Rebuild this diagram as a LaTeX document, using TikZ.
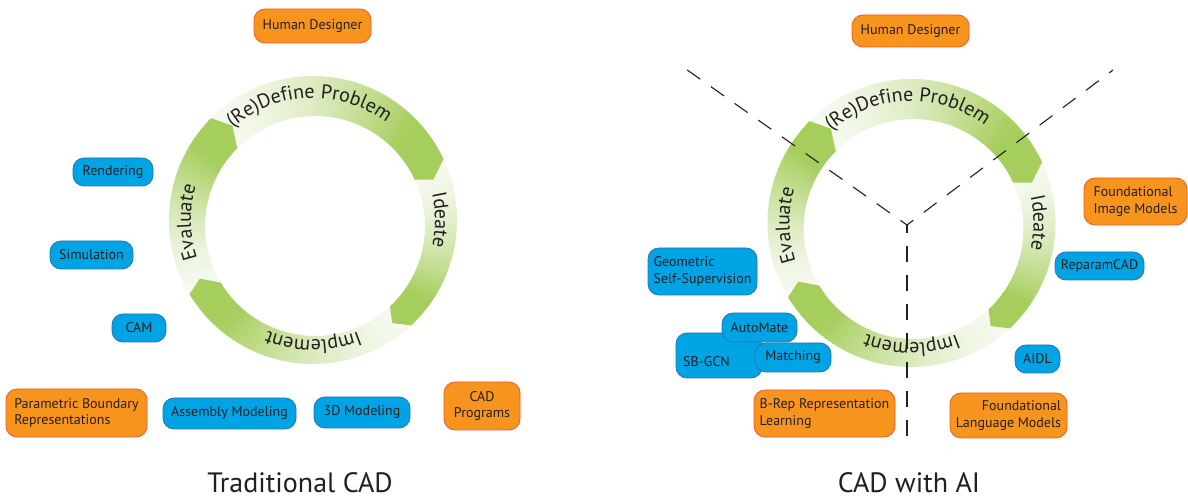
\documentclass[tikz,border=0pt]{standalone}
\usepackage{fontspec}
\setmainfont{PT Sans}
\usetikzlibrary{decorations.text}
\definecolor{ringG}{RGB}{166,206,93}
\definecolor{ringP}{RGB}{245,249,238}
\definecolor{bfill}{RGB}{0,164,228}
\definecolor{bdraw}{RGB}{36,118,178}
\definecolor{ofill}{RGB}{247,148,30}
\definecolor{odraw}{RGB}{239,90,40}
\definecolor{txt}{RGB}{35,31,32}
\newcommand{\ringfont}{\fontsize{20}{21}\selectfont}
\newcommand{\boxfont}{\fontsize{14}{16.5}\selectfont}
\newcommand{\titlefont}{\fontsize{28}{30}\selectfont}
\newcommand{\ringseg}[2]{%
  \pgfmathsetmacro{\segA}{#1}%
  \pgfmathsetmacro{\segE}{#2+5}%
  \pgfmathsetmacro{\segS}{(\segA-\segE)/60}%
  \foreach \k in {0,...,59}{%
    \pgfmathsetmacro{\ta}{\segA-\k*\segS+0.3}%
    \pgfmathsetmacro{\tb}{\segA-(\k+1)*\segS}%
    \pgfmathtruncatemacro{\pct}{min(100,100*(((\k+0.5)/50)^1.6))}%
    \fill[ringG!\pct!ringP] (\ta:144) -- (\tb:144) -- ([shift={(2,-6)}]\tb:110) -- ([shift={(2,-6)}]\ta:110) -- cycle;
  }%
}
\newcommand{\ringtip}[1]{%
  \pgfmathsetmacro{\hA}{#1}%
  \pgfmathsetmacro{\hB}{#1+5}%
  \pgfmathsetmacro{\hC}{#1+7}%
  \fill[ringG] (\hC:144) -- (\hB:144) -- ([shift={(1,-3)}]\hA:127) -- ([shift={(2,-6)}]\hB:110) -- ([shift={(2,-6)}]\hC:110) -- cycle;
}
\tikzset{
  ringtext/.style={decorate, decoration={text along path, text align=center, text color=txt, text={|\ringfont|#1}}},
  cbox/.style={rounded corners=11pt, line width=0.8pt, text=txt, font=\boxfont, inner sep=0pt},
  bbox/.style={cbox, draw=bdraw, fill=bfill},
  obox/.style={cbox, draw=odraw, fill=ofill},
  dline/.style={draw=txt, line width=1.1pt, dash pattern=on 16pt off 13pt, dash phase=8pt},
  title/.style={font=\titlefont, text=txt, anchor=base, inner sep=0pt},
}
\newcommand{\cadring}{%
  \ringseg{135}{20}\ringseg{25}{-52}\ringseg{-47}{-154}\ringseg{-149}{-230}%
  \ringtip{20}\ringtip{-52}\ringtip{-154}\ringtip{-230}%
  \path[ringtext={(Re)Define Problem}] (162:122) arc[start angle=162,end angle=22,radius=122];
  \path[ringtext={Ideate}] (70:122) arc[start angle=70,end angle=-70,radius=122];
  \path[ringtext={Implement}] (340:120) arc[start angle=340,end angle=200,radius=120];
  \path[ringtext={Evaluate}] (251:122) arc[start angle=251,end angle=111,radius=122];
}
\begin{document}
\begin{tikzpicture}[x=1pt,y=1pt]
\useasboundingbox (0,0) rectangle (1188,500);
\fill[white] (0,0) rectangle (1188,500);
% rings
\begin{scope}[shift={(313,280)}]
  \cadring
\end{scope}
\begin{scope}[shift={(911.5,277)}]
  \cadring
\end{scope}
% dashed partition
\coordinate (dc) at (907,275);
\coordinate (dul) at (683,433);
\coordinate (dur) at (1113,430);
\coordinate (dbt) at (907,57);
\draw[dline] (dc) -- (dul);
\draw[dline] (dc) -- (dur);
\draw[dline] (dc) -- (dbt);
% left panel
\node[obox, minimum width=117pt, minimum height=34pt] (hd1) at (312.5,474) {Human Designer};
\node[bbox, minimum width=80pt, minimum height=28pt] (rend) at (113,328) {Rendering};
\node[bbox, minimum width=83pt, minimum height=28pt] (sim) at (91.5,245) {Simulation};
\node[bbox, minimum width=54pt, minimum height=28pt] (cam) at (139,172) {CAM};
\node[obox, minimum width=141pt, minimum height=48pt, align=left] (pbr) at (76.5,87) {Parametric Boundary\\Representations};
\node[bbox, minimum width=133pt, minimum height=31pt] (asm) at (229.5,86.5) {Assembly Modeling};
\node[bbox, minimum width=96pt, minimum height=31pt] (m3d) at (362,87.5) {3D Modeling};
\node[obox, minimum width=76pt, minimum height=48pt, align=center] (cadp) at (482,94) {CAD\\Programs};
\node[title] (t1) at (300,7) {Traditional CAD};
% right panel
\node[obox, minimum width=117pt, minimum height=32pt] (hd2) at (910.5,469) {Human Designer};
\node[obox, minimum width=103pt, minimum height=47pt, align=left] (fim) at (1135.5,298.5) {Foundational\\Image Models};
\node[bbox, minimum width=89pt, minimum height=28pt] (rep) at (1099.5,234) {ReparamCAD};
\node[bbox, minimum width=45pt, minimum height=28pt] (aidl) at (1037.5,141) {AIDL};
\node[obox, minimum width=117pt, minimum height=45pt, align=right] (flm) at (1008.5,84.5) {Foundational\\Language Models};
\node[obox, minimum width=141pt, minimum height=47pt, align=left] (brep) at (824.5,86.5) {B-Rep Representation\\Learning};
\node[bbox, minimum width=109pt, minimum height=47pt, align=left] (gss) at (702.5,228.5) {Geometric\\Self-Supervision};
\node[bbox, minimum width=86pt, minimum height=45pt] (sbgcn) at (719,144.5) {};
\node[text=txt, font=\boxfont, anchor=base west, inner sep=0pt] (sbl) at (683,133) {SB-GCN};
\node[bbox, minimum width=75pt, minimum height=29pt] (auto) at (759.5,172.5) {AutoMate};
\node[bbox, minimum width=76pt, minimum height=29pt] (match) at (793,142.5) {Matching};
\node[title] (t2) at (909,7) {CAD with AI};
\end{tikzpicture}
\end{document}
